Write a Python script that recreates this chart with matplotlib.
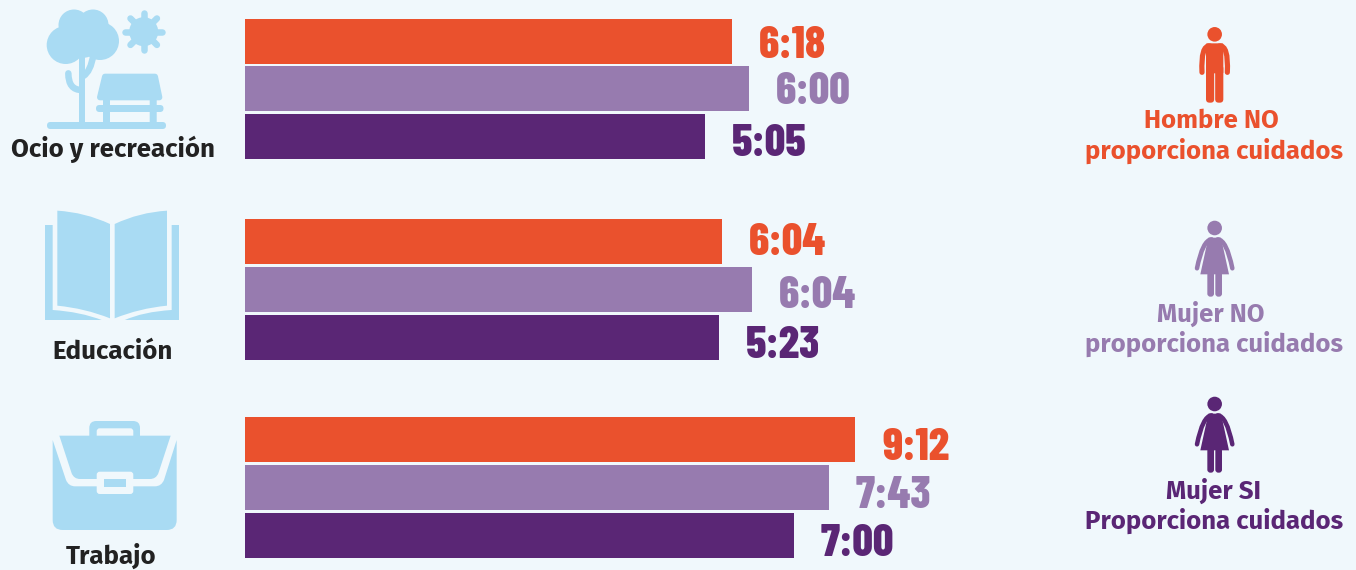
# Horas promedio por actividad segun proporcione o no cuidados
import matplotlib
matplotlib.use('Agg')
import matplotlib.pyplot as plt
from matplotlib.patches import Circle, Polygon, PathPatch, FancyBboxPatch, Rectangle
from matplotlib.path import Path

# Datos (el largo dibujado de las barras no sigue a las etiquetas en el original)
actividades = ['Ocio y recreación', 'Educación', 'Trabajo']
largo_hombre_no = [487, 477, 610]
largo_mujer_no = [504, 507, 584]
largo_mujer_si = [460, 474, 549]
horas_hombre_no = ['6:18', '6:04', '9:12']
horas_mujer_no = ['6:00', '6:04', '7:43']
horas_mujer_si = ['5:05', '5:23', '7:00']
grupos = [['Hombre NO', 'proporciona cuidados'],
          ['Mujer NO', 'proporciona cuidados'],
          ['Mujer SI', 'Proporciona cuidados']]

FONDO = '#F0F8FC'
AZUL = '#A9DBF3'
NARANJA = '#EA512D'
LILA = '#977BAF'
MORADO = '#5A2675'
TEXTO = '#222222'
FUENTE = ['Fira Sans', 'Lato', 'DejaVu Sans']
FUENTE_NUM = ['Barlow Condensed', 'Roboto Condensed', 'Liberation Sans']

fig = plt.figure(figsize=(13.56, 5.70), dpi=100, facecolor=FONDO)
ax = fig.add_axes([0, 0, 1, 1])
ax.set_xlim(0, 1356)
ax.set_ylim(570, 0)
ax.axis('off')


def z(puntos, ox=0, oy=0):
    return [(ox + x / 3, oy + y / 3) for x, y in puntos]


def forma(puntos, color=AZUL, lw=0, zorder=3):
    ax.add_patch(Polygon(puntos, closed=True, facecolor=color, edgecolor=color,
                         linewidth=lw * 0.72, joinstyle='round', zorder=zorder))


def curva(vertices, codigos, color=AZUL, zorder=3, cerrar=True, lw=0):
    ax.add_patch(PathPatch(Path(vertices, codigos),
                           facecolor=color if cerrar else 'none',
                           edgecolor=color if lw else 'none',
                           linewidth=lw * 0.72, capstyle='round', zorder=zorder))


def caja(x0, y0, x1, y1, r, color=AZUL, zorder=3):
    ax.add_patch(FancyBboxPatch((x0 + r, y0 + r), x1 - x0 - 2 * r, y1 - y0 - 2 * r,
                                boxstyle=f'round,pad={r}', facecolor=color,
                                edgecolor='none', zorder=zorder))


M, Q, L, C = Path.MOVETO, Path.CURVE3, Path.LINETO, Path.CLOSEPOLY


def icono_parque():
    # copa del arbol
    for cx, cy, r in [(65.7, 45, 19), (74, 25, 15.5), (93, 25, 15.5), (100, 41, 19), (82, 38, 20)]:
        ax.add_patch(Circle((cx, cy), r, facecolor=AZUL, edgecolor='none', zorder=3))
    caja(79, 50, 85, 124, 0)
    curva(z([(205, 220), (205, 270), (245, 270)]), [M, Q, Q], cerrar=False, lw=6.5)
    curva(z([(280, 165), (272, 215), (250, 228)]), [M, Q, Q], cerrar=False, lw=6.5)
    # suelo y banca
    caja(47, 122, 166, 129, 3.5)
    forma(z([(315, 230), (465, 230), (478, 292), (300, 292)]), lw=6)
    caja(96, 105, 163.5, 112, 3.5)
    caja(103, 99, 110, 123, 0)
    caja(149.7, 99, 156.7, 123, 0)
    # sol
    cx, cy = 143.7, 31.7
    ax.add_patch(Circle((cx, cy), 14.5, facecolor=AZUL, edgecolor='none', zorder=3))
    d = 18.7
    k = d * 0.7071
    for dx, dy in [(d, 0), (-d, 0), (0, d), (0, -d), (k, k), (-k, k), (k, -k), (-k, -k)]:
        ax.plot([cx, cx + dx], [cy, cy + dy], color=AZUL, lw=6.5 * 0.72,
                solid_capstyle='round', zorder=3)


def icono_libro():
    oy = 195
    forma(z([(136, 90), (537, 90), (537, 375), (136, 375)], oy=oy))
    curva(z([(158, 60), (515, 60), (515, 345), (430, 350), (372, 376), (308, 376), (240, 350),
             (158, 345), (158, 60)], oy=oy), [M, L, L, Q, Q, L, Q, Q, C], color=FONDO, zorder=4)
    curva(z([(172, 47), (255, 52), (330, 87), (330, 370), (255, 340), (172, 332), (172, 47)], oy=oy),
          [M, Q, Q, L, Q, Q, C], zorder=5)
    curva(z([(501, 47), (418, 52), (344, 87), (344, 370), (418, 340), (501, 332), (501, 47)], oy=oy),
          [M, Q, Q, L, Q, Q, C], zorder=5)


def icono_maletin():
    oy = 195
    caja(89.3, 421, 140, 445, 7)
    caja(96.7, 428.3, 133.3, 440, 3, color=FONDO, zorder=4)
    # solapa
    curva(z([(178, 722), (512, 722), (475, 835), (468, 852), (450, 852), (240, 852), (222, 852),
             (215, 835), (178, 722)], oy=oy), [M, L, L, Q, Q, L, Q, Q, C], zorder=5)
    # cuerpo
    curva(z([(158, 735), (198, 855), (206, 874), (225, 874), (465, 874), (484, 874), (492, 855),
             (530, 735), (530, 975), (530, 1005), (500, 1005), (188, 1005), (158, 1005),
             (158, 975), (158, 735)], oy=oy),
          [M, L, Q, Q, L, Q, Q, L, L, Q, Q, L, Q, Q, C], zorder=5)
    caja(96.7, 471.7, 133.3, 494, 3, color=FONDO, zorder=6)
    ax.add_patch(Rectangle((104, 479), 22, 8, facecolor=AZUL, edgecolor='none', zorder=7))


def icono_hombre(color, ox, oy):
    ax.add_patch(Circle(z([(404, 58)], ox, oy)[0], 7.3, facecolor=color, edgecolor='none', zorder=3))
    # torso
    caja(ox + 378 / 3, oy + 85 / 3, ox + 430 / 3, oy + 175 / 3, 1, color=color)
    # brazos
    curva(z([(390, 93), (362, 90), (366, 172)], ox, oy), [M, Q, Q], color=color, cerrar=False, lw=5.2)
    curva(z([(418, 93), (446, 90), (442, 172)], ox, oy), [M, Q, Q], color=color, cerrar=False, lw=5.2)
    caja(ox + 378 / 3, oy + 150 / 3, ox + 402.5 / 3, oy + 263 / 3, 3.5, color=color)
    caja(ox + 405.5 / 3, oy + 150 / 3, ox + 430 / 3, oy + 263 / 3, 3.5, color=color)


def icono_mujer(color, ox, oy):
    ax.add_patch(Circle(z([(404, 54)], ox, oy)[0], 7.3, facecolor=color, edgecolor='none', zorder=3))
    # vestido
    forma(z([(385, 83), (423, 83), (447, 193), (361, 193)], ox, oy), color=color)
    # brazos
    curva(z([(395, 88), (368, 90), (351, 175)], ox, oy), [M, Q, Q], color=color, cerrar=False, lw=4.5)
    curva(z([(413, 88), (440, 90), (457, 175)], ox, oy), [M, Q, Q], color=color, cerrar=False, lw=4.5)
    caja(ox + 382 / 3, oy + 185 / 3, ox + 402 / 3, oy + 260 / 3, 3, color=color)
    caja(ox + 406 / 3, oy + 185 / 3, ox + 426 / 3, oy + 260 / 3, 3, color=color)


# Barras
inicio = 245
alto = 45
series = [(largo_hombre_no, horas_hombre_no, NARANJA, [19, 219, 417]),
          (largo_mujer_no, horas_mujer_no, LILA, [66, 267, 465]),
          (largo_mujer_si, horas_mujer_si, MORADO, [114, 315, 513])]
# ajuste vertical de cada etiqueta respecto al centro de su barra
ajuste_y = [[4.5, 4, 8], [1.5, 6, 8], [8.5, 9, 9]]

for s, (largos, horas, color, tops) in enumerate(series):
    ys = [t + alto / 2 for t in tops]
    ax.barh(ys, largos, left=inicio, height=alto, color=color, zorder=2)
    for i, (largo, hora) in enumerate(zip(largos, horas)):
        ax.text(inicio + largo + 27, ys[i] + ajuste_y[i][s], hora, color=color,
                family=FUENTE_NUM, weight=800, fontsize=32.5, ha='left', va='center', zorder=4)

# Etiquetas de actividades
for nombre, x, y in zip(actividades, [113, 113, 111], [149, 352, 556]):
    ax.text(x, y, nombre, color=TEXTO, family=FUENTE, weight='bold', fontsize=18.6,
            ha='center', va='center')

# Leyenda de la derecha
icono_hombre(NARANJA, 1080, 15)
icono_mujer(LILA, 1080, 210)
icono_mujer(MORADO, 1080, 386)
for lineas, color, x0, y0 in zip(grupos, [NARANJA, LILA, MORADO], [1211, 1211, 1214], [121, 314, 491]):
    ax.text(x0, y0, lineas[0], color=color, family=FUENTE, weight='bold', fontsize=18.5,
            ha='center', va='center')
    ax.text(1214, y0 + 30, lineas[1], color=color, family=FUENTE, weight='bold', fontsize=18.5,
            ha='center', va='center')

icono_parque()
icono_libro()
icono_maletin()

fig.savefig('out.png', dpi=100, facecolor=FONDO)
